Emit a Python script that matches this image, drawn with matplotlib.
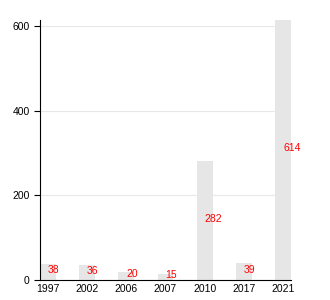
import matplotlib
matplotlib.use("Agg")
from matplotlib import pyplot as plt
import numpy

plt.rcParams['font.family'] = ['Liberation Sans', 'DejaVu Sans']

years = ["1997", "2002", "2006", "2007", "2010", "2017", "2021"]
counts = [38, 36, 20, 15, 282, 39, 614]

fig = plt.figure(figsize=(3.3, 3.0), dpi=100)
ax = fig.add_axes([0.121, 0.0667, 0.761, 0.8667])

x = numpy.arange(len(years))
ax.bar(x, counts, width=0.4, color="#e6e6e6", zorder=2)
for xi, c in zip(x, counts):
    ax.text(xi, c / 2 + 4, str(c), color="red", fontsize=7.5, ha="left", va="center", zorder=3)

ax.set_xlim(-0.2, len(years) - 0.8)
ax.set_ylim(0, max(counts))
ax.set_xticks(x)
ax.set_xticklabels(years)
ax.set_yticks([0, 200, 400, 600])
ax.yaxis.grid(True, color="#e8e8e8", linewidth=0.8, zorder=0)
ax.set_axisbelow(True)
for s in ["top", "right"]:
    ax.spines[s].set_visible(False)
ax.tick_params(axis="x", length=0, labelsize=7.5, pad=3)
ax.tick_params(axis="y", length=4, labelsize=7.5)

fig.savefig("out.png")
